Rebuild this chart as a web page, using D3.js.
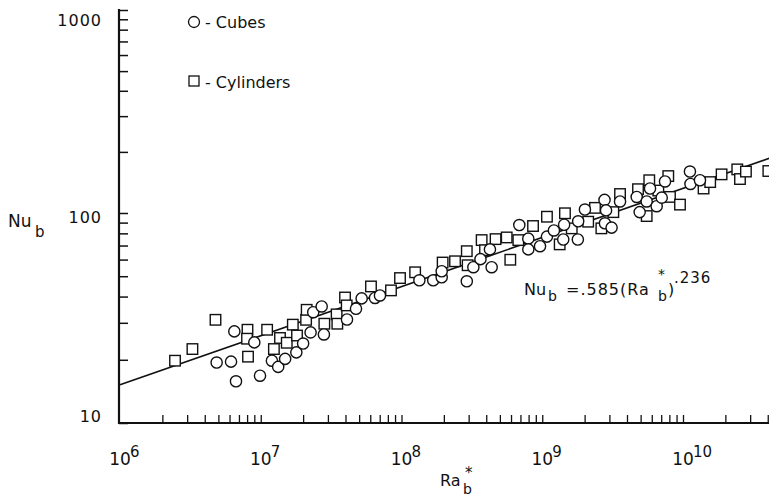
<!DOCTYPE html>
<html>
<head>
<meta charset="utf-8">
<script src="https://cdn.jsdelivr.net/npm/d3@7"></script>
<style>
body { margin:0; background:#fff; }
svg { display:block; font-family:"DejaVu Sans", sans-serif; }
text { fill:#111; }
</style>
</head>
<body>
<svg id="svg" width="769" height="498"></svg>
<script>
// cubes (circles)
const cubeRa = [6.49e6, 9.0e6, 4.86e6, 6.15e6, 6.67e6, 9.88e6, 1.2e7, 1.33e7, 1.49e7, 1.79e7, 2.0e7,
    2.36e7, 2.71e7, 2.26e7, 2.81e7, 4.1e7, 4.75e7, 5.21e7, 6.48e7, 7.03e7, 1.34e8, 1.68e8, 1.93e8, 1.93e8,
    2.91e8, 3.24e8, 3.64e8, 4.37e8, 4.25e8, 6.87e8, 7.96e8, 7.96e8, 9.64e8, 1.08e9, 1.21e9, 1.43e9, 1.41e9, 1.79e9, 1.8e9, 2.01e9,
    2.77e9, 2.84e9, 2.79e9, 3.11e9, 3.57e9, 4.69e9, 4.92e9, 5.52e9, 5.83e9, 6.5e9, 7.06e9, 7.45e9, 1.12e10, 1.13e10, 1.32e10];
const cubeNu = [27.3, 24.2, 19.4, 19.6, 15.8, 16.8, 19.8, 18.5, 20.2, 21.7, 23.9,
    33.7, 35.9, 27.0, 26.4, 31.1, 35.0, 39.2, 39.4, 40.5, 47.8, 47.8, 49.4, 52.8,
    47.3, 55.2, 60.3, 55.2, 67.1, 87.6, 75.5, 67.1, 69.5, 77.2, 82.6, 87.9, 74.8, 74.8, 91.3, 104,
    116, 103, 89.3, 85.2, 114, 120, 101, 114, 132, 108, 119, 143, 160, 139, 145];

// cylinders (squares)
const cylRa = [2.46e6, 3.27e6, 4.77e6, 8.05e6, 7.99e6, 8.12e6, 1.11e7, 1.24e7, 1.37e7, 1.53e7, 1.69e7, 1.81e7, 2.1e7, 2.12e7,
    2.83e7, 3.46e7, 3.5e7, 3.97e7, 4.08e7, 6.07e7, 8.42e7, 9.76e7, 1.25e8, 1.96e8,
    2.4e8, 2.91e8, 2.95e8, 3.71e8, 3.92e8, 4.66e8, 5.59e8, 5.93e8, 6.76e8, 8.6e8, 1.08e9, 1.33e9, 1.45e9, 1.62e9, 2.12e9, 2.37e9, 2.63e9,
    3.2e9, 3.57e9, 4.79e9, 5.52e9, 5.76e9, 6.68e9, 7.86e9, 8.08e9, 9.52e9, 1.4e10, 1.56e10, 1.88e10, 2.43e10, 2.54e10, 2.8e10, 4.04e10];
const cylNu = [19.8, 22.5, 31.0, 27.8, 25.2, 20.7, 27.8, 22.5, 25.4, 24.1, 29.4, 26.1, 31.0, 34.6,
    29.7, 32.9, 29.7, 39.6, 36.3, 44.7, 42.8, 49.0, 52.2, 58.1,
    58.9, 65.8, 56.4, 74.3, 66.5, 75.1, 76.5, 59.9, 74.3, 86.7, 96.0, 70.9, 99.7, 84.5, 90.9, 106, 84.5,
    101, 124, 131, 96.7, 145, 129, 152, 120, 110, 132, 142, 155, 164, 147, 160, 161];

// correlation line end points
const fitRa = [1e6, 4.1e10];
const fitNu = [15.2, 186];

const xExponents = [6, 7, 8, 9, 10];
const yLabels = [10, 100, 1000];

const svg = d3.select("#svg");

const x = d3.scaleLog().domain([1e6, 1e10]).range([120, 683]);
const y = d3.scaleLog().domain([10, 100, 1000]).range([423, 213, 10]);

const xTicks = [];
for (let n = 6; n <= 10; n++) {
    for (let k = 1; k <= 9; k++) {
        if (k * Math.pow(10, n) <= 4.1e10 && !(n === 6 && k === 1)) xTicks.push(k * Math.pow(10, n));
    }
}
const yTicks = d3.range(10, 100, 10).concat(d3.range(100, 1001, 100));

// axes: ticks point inward
const xAxisCall = d3.axisBottom(x).tickValues(xTicks).tickSize(-8).tickFormat("");
const yAxisCall = d3.axisLeft(y).tickValues(yTicks).tickSize(-9).tickFormat("");

svg.append("g")
    .attr("class", "x axis")
    .attr("transform", "translate(0,423)")
    .call(xAxisCall)
    .call(g => g.select(".domain").remove())
    .selectAll("line").attr("stroke", "#111").attr("stroke-width", 1.3);

svg.append("g")
    .attr("class", "y axis")
    .attr("transform", "translate(119,0)")
    .call(yAxisCall)
    .call(g => g.select(".domain").remove())
    .selectAll("line").attr("stroke", "#111").attr("stroke-width", 1.5);

svg.append("line").attr("x1", 119).attr("x2", 119).attr("y1", 9).attr("y2", 424)
    .attr("stroke", "#111").attr("stroke-width", 2.2);
svg.append("line").attr("x1", 118).attr("x2", 769).attr("y1", 423).attr("y2", 423)
    .attr("stroke", "#111").attr("stroke-width", 2);

// y labels
const yLabelDy = [-1, 10, 16];
svg.selectAll(".ylab").data(yLabels).enter().append("text")
    .attr("class", "ylab")
    .attr("x", 102)
    .attr("y", (d, i) => y(d) + yLabelDy[i])
    .attr("text-anchor", "end")
    .attr("font-size", 16)
    .attr("letter-spacing", 1)
    .text(d => d);

// x labels: 10 with superscript exponent
const xl = svg.selectAll(".xlab").data(xExponents).enter().append("g").attr("class", "xlab");
xl.append("text")
    .attr("x", d => x(Math.pow(10, d)))
    .attr("y", 465)
    .attr("text-anchor", "middle")
    .attr("font-size", 17)
    .text("10");
xl.append("text")
    .attr("x", d => x(Math.pow(10, d)) + 10)
    .attr("y", 457)
    .attr("font-size", 15)
    .text(d => d);

function txt(px, py, s, size) {
    return svg.append("text").attr("x", px).attr("y", py).attr("font-size", size).text(s);
}

// axis titles
txt(8, 227, "Nu", 17);
txt(35, 237, "b", 15);
txt(440, 486, "Ra", 16);
txt(463, 494, "b", 14);
txt(465, 478, "*", 15);

// correlation text
txt(524, 295, "Nu", 16);
txt(548, 301, "b", 14);
txt(566, 295, "=.585(Ra", 16).attr("letter-spacing", 1);
txt(658, 279, "*", 14);
txt(658, 301, "b", 14);
txt(668, 295, ")", 16);
txt(674, 283, ".236", 15).attr("letter-spacing", 1);

// legend
svg.append("circle").attr("cx", 194).attr("cy", 22).attr("r", 5.5)
    .attr("fill", "#fff").attr("stroke", "#111").attr("stroke-width", 1.3);
txt(205, 28, "- Cubes", 16);
svg.append("rect").attr("x", 189).attr("y", 76).attr("width", 10).attr("height", 10)
    .attr("fill", "#fff").attr("stroke", "#111").attr("stroke-width", 1.3);
txt(205, 88, "- Cylinders", 16);

// correlation line
const line = d3.line().x(d => x(d[0])).y(d => y(d[1]));
svg.append("path")
    .datum(fitRa.map((r, i) => [r, fitNu[i]]))
    .attr("d", line)
    .attr("fill", "none")
    .attr("stroke", "#111")
    .attr("stroke-width", 1.6);

// markers
const sq = 10.5;
svg.append("g").selectAll("rect").data(cylRa).enter().append("rect")
    .attr("x", (d, i) => x(d) - sq / 2)
    .attr("y", (d, i) => y(cylNu[i]) - sq / 2)
    .attr("width", sq)
    .attr("height", sq)
    .attr("fill", "#fff")
    .attr("stroke", "#111")
    .attr("stroke-width", 1.4);

svg.append("g").selectAll("circle").data(cubeRa).enter().append("circle")
    .attr("cx", d => x(d))
    .attr("cy", (d, i) => y(cubeNu[i]))
    .attr("r", 5.6)
    .attr("fill", "#fff")
    .attr("stroke", "#111")
    .attr("stroke-width", 1.4);
</script>
</body>
</html>
